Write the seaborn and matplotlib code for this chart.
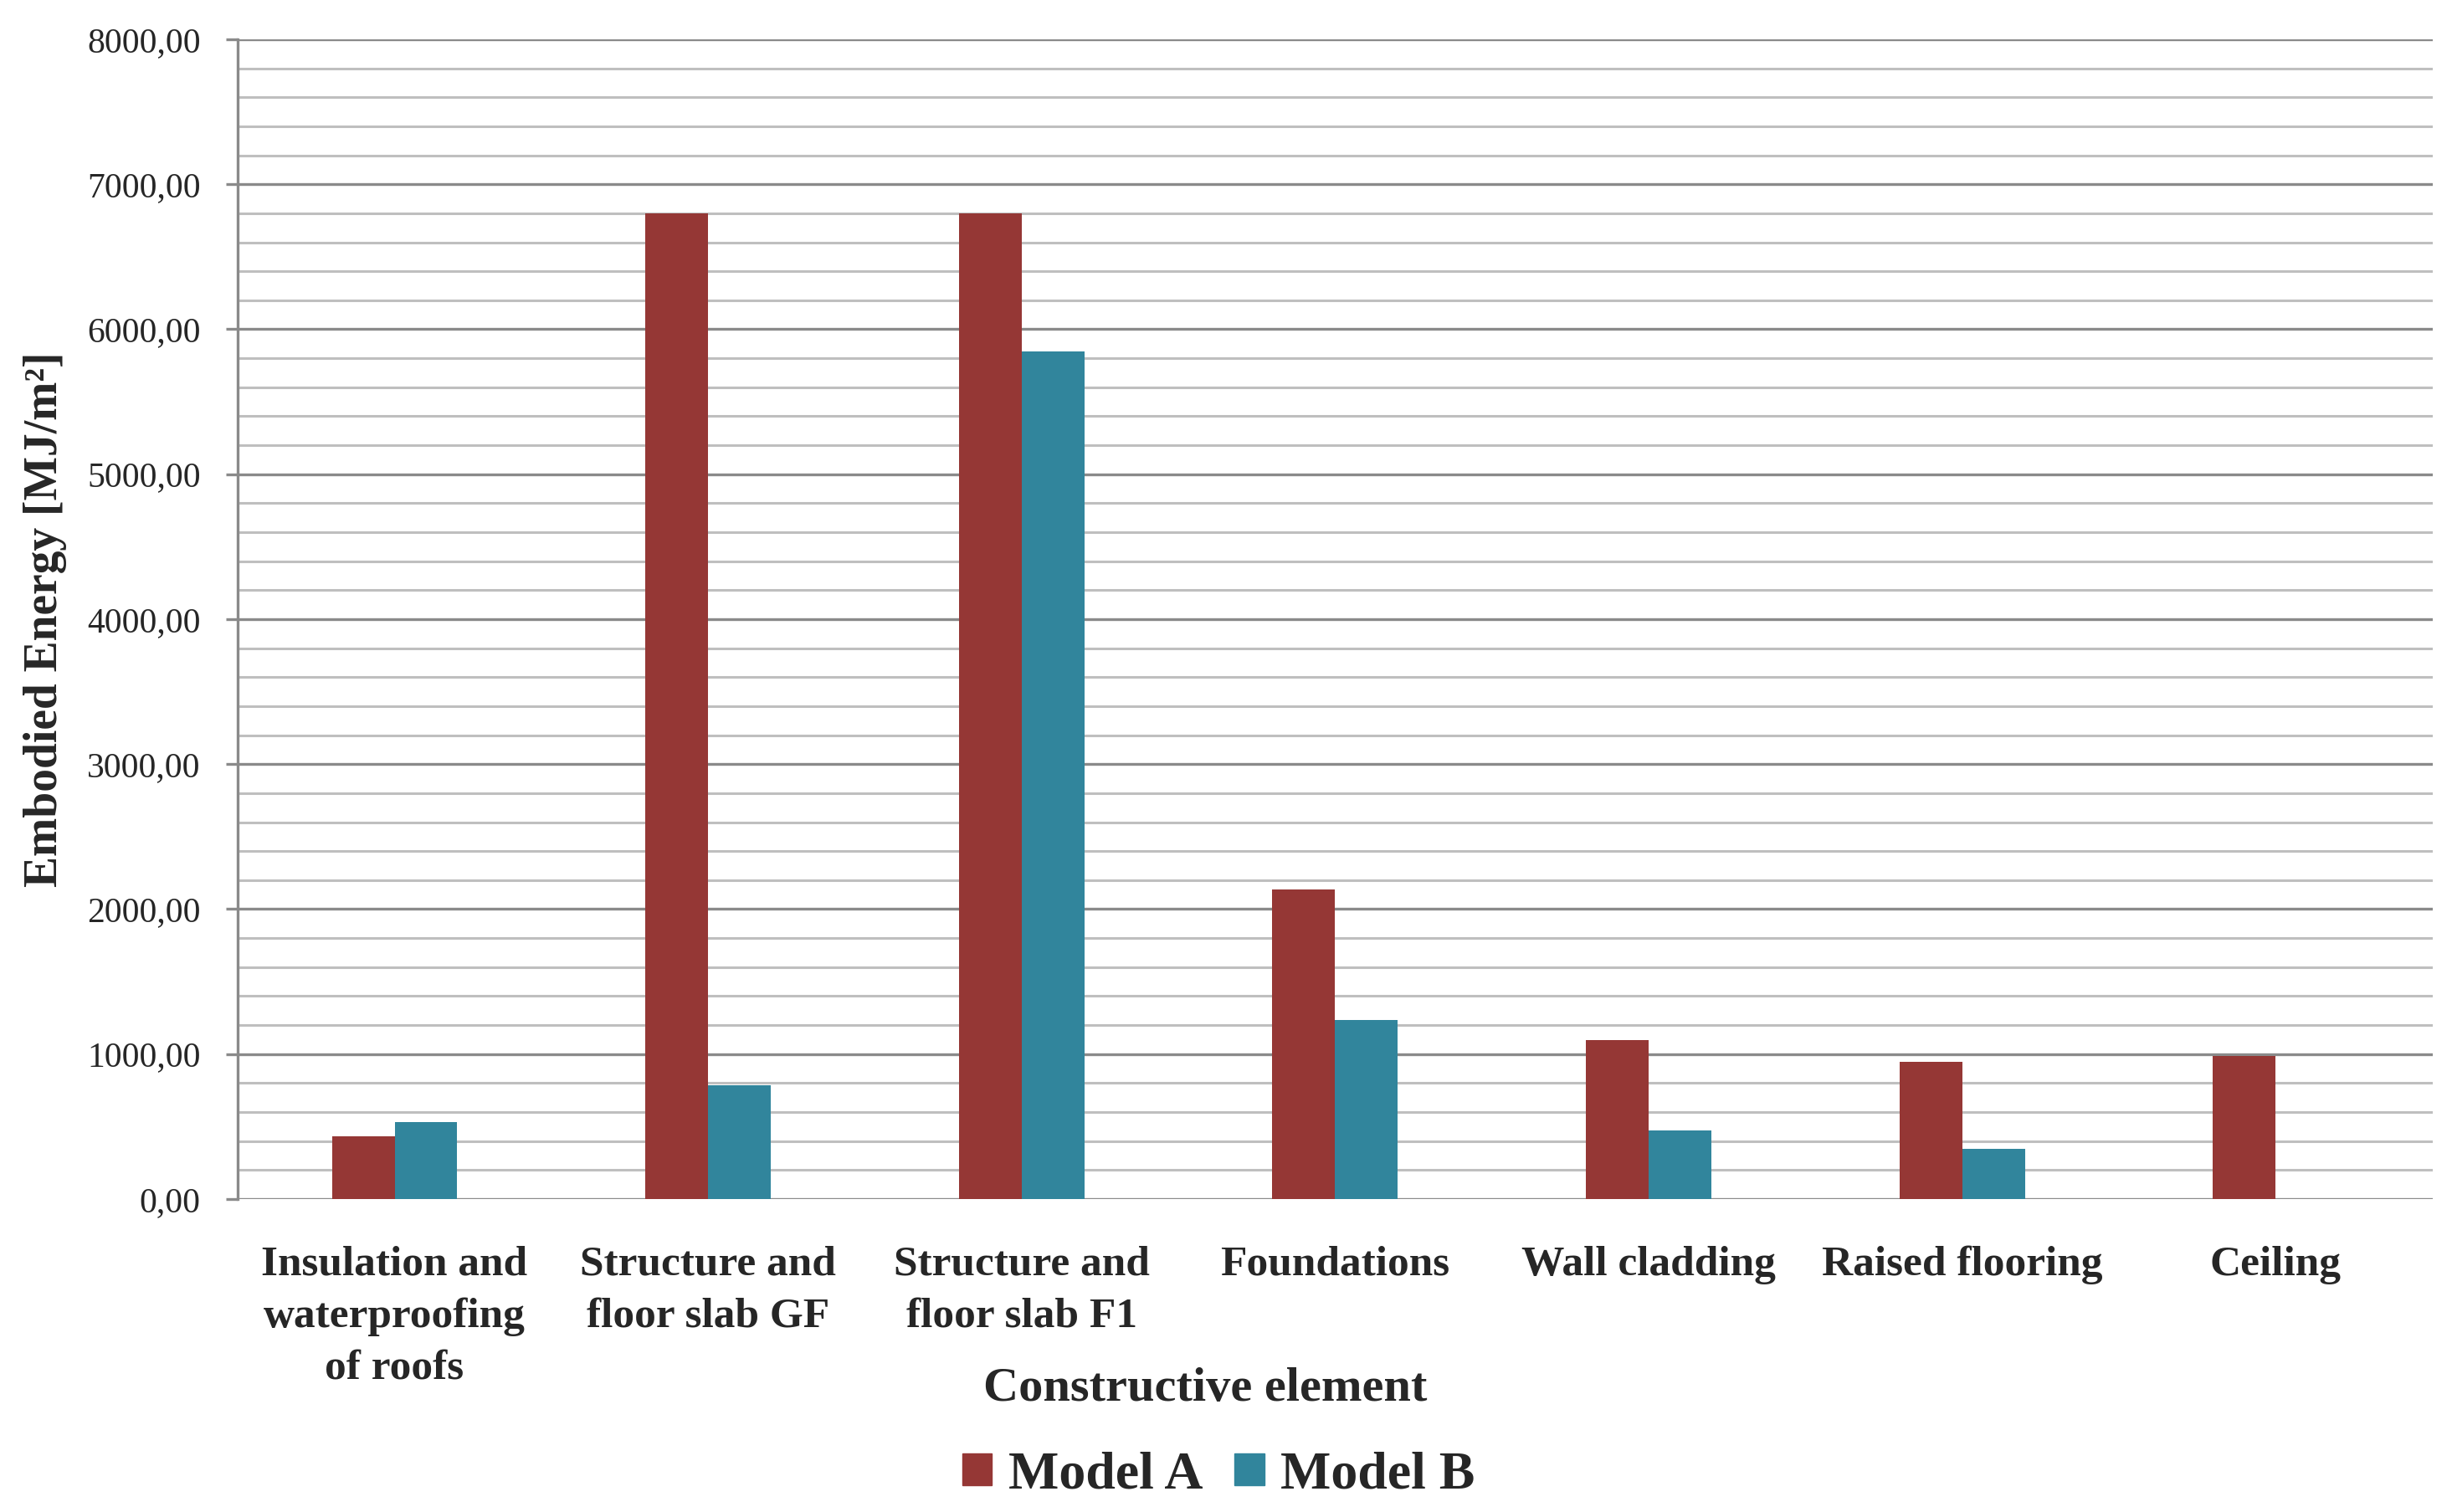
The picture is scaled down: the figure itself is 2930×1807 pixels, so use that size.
import numpy as np
import matplotlib
matplotlib.use("Agg")
import matplotlib.pyplot as plt
import pandas as pd
import seaborn as sns
from matplotlib.ticker import MultipleLocator, FuncFormatter

# data
elements = ["Insulation and\nwaterproofing\nof roofs", "Structure and\nfloor slab GF",
            "Structure and\nfloor slab F1", "Foundations", "Wall cladding",
            "Raised flooring", "Ceiling"]
model_a = [431, 6800, 6800, 2135, 1098, 948, 985]
model_b = [533, 783, 5845, 1235, 475, 348, 0]
models = ["Model A", "Model B"]
colors = ["#953735", "#31859C"]

df = pd.DataFrame({
    "element": elements * 2,
    "energy": model_a + model_b,
    "model": [models[0]] * len(elements) + [models[1]] * len(elements),
})

sns.set_style("white")
plt.rcParams["font.family"] = ["Liberation Serif", "DejaVu Serif"]

fig = plt.figure(figsize=(29.3, 18.07), dpi=100)
ax = fig.add_axes([0.097, 0.207, 0.895, 0.767])

sns.barplot(data=df, x="element", y="energy", hue="model", palette=colors,
            width=0.4, gap=0, errorbar=None, saturation=1, linewidth=0,
            ax=ax, zorder=3)

ax.set_xlim(-0.5, 6.5)
ax.set_ylim(0, 8000)
ax.yaxis.set_major_locator(MultipleLocator(1000))
ax.yaxis.set_minor_locator(MultipleLocator(200))
ax.yaxis.set_major_formatter(FuncFormatter(lambda v, p: f"{v:.2f}".replace(".", ",")))

ax.grid(axis="y", which="major", color="#8a8a8a", linewidth=2.4, zorder=1)
ax.grid(axis="y", which="minor", color="#bfbfbf", linewidth=2.2, zorder=1)
ax.grid(axis="x", visible=False)
ax.set_axisbelow(True)

for s in ["top", "right", "bottom"]:
    ax.spines[s].set_visible(False)
ax.spines["left"].set_color("#8a8a8a")
ax.spines["left"].set_linewidth(2.4)

ax.tick_params(axis="y", which="major", direction="out", length=10, width=2.4,
               color="#8a8a8a", pad=22, labelsize=30, left=True)
ax.tick_params(axis="y", which="minor", length=0)
ax.tick_params(axis="x", length=0, pad=40)
ax.set_xticks(range(len(elements)))
ax.set_xticklabels(elements, fontsize=37, fontweight="bold", linespacing=1.45)

ax.set_ylabel("Embodied Energy [MJ/m²]", fontsize=40, fontweight="bold")
ax.yaxis.set_label_coords(-0.078, 0.5)
ax.set_xlabel("Constructive element", fontsize=42, fontweight="bold")
ax.xaxis.set_label_coords(0.441, -0.164)
ax.xaxis.label.set_va("center")

ax.get_legend().remove()
handles = [plt.Rectangle((0, 0), 1, 1, color=c) for c in colors]
fig.legend(handles, models, loc="center", bbox_to_anchor=(0.497, 0.024), ncol=2,
           frameon=False, prop={"size": 46, "weight": "bold"},
           handlelength=0.55, handleheight=0.55, handletextpad=0.3, columnspacing=0.6)

fig.savefig("out.png", dpi=100, facecolor="white")
